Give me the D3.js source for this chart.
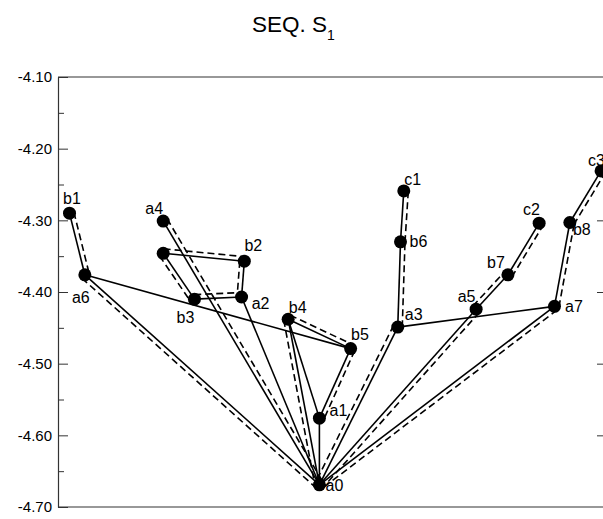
<!DOCTYPE html>
<html><head><meta charset="utf-8">
<script src="https://cdn.jsdelivr.net/npm/d3@7"></script>
<style>body{margin:0;background:#fff}</style>
</head><body>
<svg id="c" width="603" height="519"></svg>
<script>
// ---- data ----
const nodeNames = ["a0","a1","a2","a3","a4","a5","a6","a7","b1","b2","b3","b4","b5","b6","b7","b8","c1","c2","c3","u"];
const nodeX = [4.77,4.77,3.35,6.20,1.92,7.63,0.49,9.06,0.21,3.40,2.49,4.20,5.34,6.25,8.21,9.34,6.31,8.78,9.91,1.92];
const nodeY = [-4.669,-4.576,-4.407,-4.449,-4.301,-4.424,-4.376,-4.420,-4.290,-4.357,-4.410,-4.438,-4.479,-4.330,-4.376,-4.303,-4.259,-4.304,-4.231,-4.346];
const nodeLabels = ["a0","a1","a2","a3","a4","a5","a6","a7","b1","b2","b3","b4","b5","b6","b7","b8","c1","c2","c3",""];
const solidEdges = [["a0","a1"],["a0","a2"],["a0","a3"],["a0","a4"],["a0","a5"],["a0","a6"],["a0","a7"],
  ["a6","b1"],["a6","b5"],["u","b2"],["u","b3"],["b3","a2"],["b2","a2"],["b4","b5"],["b4","a1"],["b4","a0"],
  ["b5","a1"],["a3","b6"],["b6","c1"],["a3","a7"],["a5","b7"],["b7","c2"],["a7","b8"],["b8","c3"]];
const dashedEdges = [["b1","a6"],["a6","a0"],["a4","a0"],["u","b2"],["u","b3"],["b3","a2"],["b2","a2"],["b4","b5"],
  ["b4","a0"],["b5","a1"],["a3","a0"],["a3","b6"],["b6","c1"],["a5","a0"],["a5","b7"],["b7","c2"],["a7","a0"],["a7","b8"],["b8","c3"]];
const yMajorTicks = [-4.10,-4.20,-4.30,-4.40,-4.50,-4.60,-4.70];
const yMinorTicks = [-4.15,-4.25,-4.35,-4.45,-4.55,-4.65];
const yRightTicks = [-4.30,-4.40,-4.50,-4.60];
const titleMain = "SEQ. S";
const titleSub = "1";

// ---- layout / style ----
const dashSide = {"b1-a6":[1,0],"a6-a0":[-1,1],"a4-a0":[1,0],"u-b2":[0,-1],"u-b3":[-1,0],"b3-a2":[0,-1],"b2-a2":[-1,0],
  "b4-b5":[0,-1],"b4-a0":[-1,0],"b5-a1":[1,0],"a3-a0":[-1,-1],"a3-b6":[1,0],"b6-c1":[1,0],"a5-a0":[1,1],"a5-b7":[-1,-1],
  "b7-c2":[1,1],"a7-a0":[1,1],"a7-b8":[1,0],"b8-c3":[1,1]};
const labelOffset = {a0:[15,1],a1:[19,-8],a2:[19,6],a3:[16,-13],a4:[-9,-12.5],a5:[-9.5,-13],a6:[-4,22.5],a7:[19.5,0],
  b1:[2.5,-14.5],b2:[9,-15.5],b3:[-9,18.7],b4:[9.5,-11.5],b5:[9.3,-14],b6:[18,0],b7:[-12,-12.5],b8:[12,6.5],
  c1:[9,-11.7],c2:[-7.7,-14.3],c3:[-4.5,-10]};

const svg = d3.select("#c");
const mL = 58, mR = 606, mT = 77, mB = 507;
const x = d3.scaleLinear().domain([0,10]).range([mL,mR]);
const y = d3.scaleLinear().domain([-4.70,-4.10]).range([mB,mT]);
const font = "Arial, 'Liberation Sans', sans-serif";
const axisColor = "#333";

// borders
svg.append("line").attr("x1",mL).attr("x2",603).attr("y1",mT).attr("y2",mT).attr("stroke",axisColor).attr("stroke-width",1.2);
svg.append("line").attr("x1",mL).attr("x2",603).attr("y1",mB).attr("y2",mB).attr("stroke",axisColor).attr("stroke-width",1.2);

// left axis
const gL = svg.append("g").attr("transform",`translate(${mL},0)`);
gL.call(d3.axisLeft(y).tickValues(yMajorTicks).tickSizeInner(-10).tickSizeOuter(0).tickPadding(6).tickFormat(d => d.toFixed(2)));
const gMinor = gL.append("g");
gMinor.call(d3.axisLeft(y).tickValues(yMinorTicks).tickSizeInner(-6).tickSizeOuter(0).tickFormat(""));
gMinor.select("path.domain").remove();
gL.selectAll("path.domain").attr("stroke",axisColor).attr("stroke-width",1.2);
gL.selectAll(".tick line").attr("stroke",axisColor).attr("stroke-width",1);
gL.selectAll(".tick text").attr("font-family",font).attr("font-size",15).attr("fill","#000");

// right ticks
const gR = svg.append("g").attr("transform",`translate(${mR},0)`);
gR.call(d3.axisRight(y).tickValues(yRightTicks).tickSizeInner(-9).tickSizeOuter(0).tickFormat(""));
gR.selectAll(".tick line").attr("stroke",axisColor);
gR.select("path.domain").remove();

const idx = Object.fromEntries(nodeNames.map((n,i)=>[n,i]));
const px = n => x(nodeX[idx[n]]), py = n => y(nodeY[idx[n]]);

// solid edges
svg.append("g").selectAll("line").data(solidEdges).join("line")
  .attr("x1",d=>px(d[0])).attr("y1",d=>py(d[0])).attr("x2",d=>px(d[1])).attr("y2",d=>py(d[1]))
  .attr("stroke","#000").attr("stroke-width",1.6);

// dashed edges (drawn parallel, offset to one side)
const OFF = 4.5;
function offs(d){
  const x1=px(d[0]),y1=py(d[0]),x2=px(d[1]),y2=py(d[1]);
  const dx=x2-x1, dy=y2-y1, L=Math.hypot(dx,dy);
  let nx=-dy/L, ny=dx/L;
  const h = dashSide[d[0]+"-"+d[1]] || [1,0];
  if (nx*h[0]+ny*h[1] < 0){ nx=-nx; ny=-ny; }
  return [x1+nx*OFF, y1+ny*OFF, x2+nx*OFF, y2+ny*OFF];
}
svg.append("g").selectAll("line").data(dashedEdges).join("line")
  .attr("x1",d=>offs(d)[0]).attr("y1",d=>offs(d)[1]).attr("x2",d=>offs(d)[2]).attr("y2",d=>offs(d)[3])
  .attr("stroke","#000").attr("stroke-width",1.6).attr("stroke-dasharray","7,4");

// nodes
svg.append("g").selectAll("circle").data(nodeNames).join("circle")
  .attr("cx",d=>px(d)).attr("cy",d=>py(d)).attr("r",6.5).attr("fill","#000");

// labels
svg.append("g").selectAll("text").data(nodeNames.filter((n,i)=>nodeLabels[i])).join("text")
  .attr("x",d=>px(d)+labelOffset[d][0]).attr("y",d=>py(d)+labelOffset[d][1]+5.6)
  .attr("text-anchor","middle").attr("font-family",font).attr("font-size",16).attr("fill","#000")
  .text(d=>nodeLabels[idx[d]]);

// title
const t = svg.append("text").attr("x",252).attr("y",32).attr("font-family",font).attr("font-size",22.5).attr("fill","#000");
t.append("tspan").text(titleMain);
t.append("tspan").attr("font-size",14).attr("dy",8).text(titleSub);
</script>
</body></html>
